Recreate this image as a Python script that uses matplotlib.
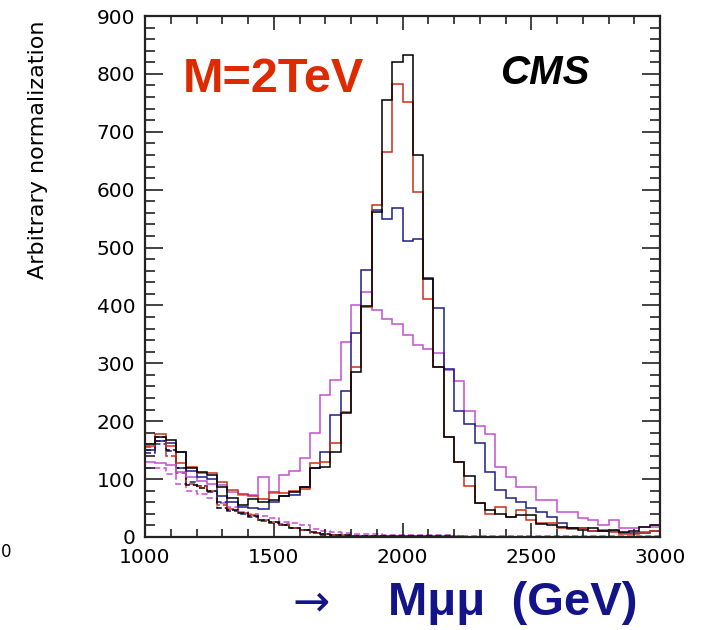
import numpy as np
import matplotlib.pyplot as plt
from matplotlib.ticker import MultipleLocator

# dimuon mass histograms, 40 GeV bins from 1000 to 3000 GeV
m_lo, m_hi, n_bins = 1000, 3000, 50

sig_black = [160, 172, 168, 147, 120, 113, 107, 86, 67, 56, 65, 60, 64, 70, 78, 87,
             119, 121, 147, 214, 285, 399, 562, 755, 821, 832, 660, 445, 294, 173,
             129, 105, 59, 47, 40, 35, 38, 38, 22, 20, 18, 15, 12, 15, 10, 12, 8, 10, 18, 20]
sig_red = [158, 178, 158, 127, 121, 111, 110, 95, 81, 74, 70, 66, 77, 76, 80, 83,
           127, 130, 163, 216, 293, 398, 573, 665, 782, 752, 596, 411, 294, 173,
           129, 88, 59, 40, 52, 35, 47, 30, 24, 24, 16, 14, 15, 10, 12, 8, 6, 6, 8, 10]
sig_blue = [150, 166, 162, 147, 114, 104, 101, 70, 61, 52, 50, 48, 60, 70, 72, 87,
            119, 147, 211, 253, 352, 461, 565, 550, 568, 511, 514, 447, 395, 290,
            217, 195, 163, 113, 81, 68, 60, 50, 44, 35, 24, 16, 16, 10, 10, 10, 7, 7, 7, 10]
sig_magenta = [129, 128, 125, 112, 104, 96, 92, 90, 77, 72, 72, 104, 76, 107, 114, 137,
               179, 245, 272, 337, 401, 423, 392, 377, 368, 349, 331, 325, 318, 288,
               269, 218, 191, 178, 121, 104, 87, 87, 64, 64, 44, 44, 32, 30, 21, 29, 15, 15, 18, 18]

# Drell-Yan background (dashed)
bkg_black = [150, 165, 150, 120, 90, 85, 80, 50, 46, 42, 36, 30, 26, 20, 16, 12, 8, 5, 4, 3,
             2, 2, 1, 1, 1, 1, 1, 1, 1, 1, 0, 0, 0, 0, 0, 0, 0, 0, 0, 0, 0, 0, 0, 0, 0, 0, 0, 0, 0, 0]
bkg_red = [155, 172, 140, 110, 92, 88, 80, 55, 48, 42, 38, 30, 26, 22, 16, 12, 7, 5, 4, 3,
           2, 2, 1, 1, 1, 1, 1, 1, 1, 1, 1, 0, 0, 0, 0, 0, 0, 0, 0, 0, 0, 0, 0, 0, 0, 0, 0, 0, 0, 0]
bkg_blue = [145, 160, 148, 120, 95, 88, 78, 60, 45, 40, 35, 28, 25, 20, 16, 12, 7, 4, 3, 2,
            1, 1, 1, 1, 1, 1, 1, 1, 0, 0, 0, 0, 0, 0, 0, 0, 0, 0, 0, 0, 0, 0, 0, 0, 0, 0, 0, 0, 0, 0]
bkg_magenta = [120, 120, 108, 92, 80, 75, 68, 58, 52, 44, 40, 36, 32, 26, 24, 20, 14, 10, 8, 7,
               6, 5, 5, 4, 4, 3, 3, 3, 3, 3, 2, 2, 2, 2, 2, 2, 2, 2, 2, 2, 1, 1, 1, 1, 1, 1, 1, 1, 1, 1]

colors = {'black': '#000000', 'red': '#cc3018', 'blue': '#1e1e86', 'magenta': '#c54fd2'}

edges = np.linspace(m_lo, m_hi, n_bins + 1)

fig = plt.figure(figsize=(7.11, 6.30), dpi=100)
ax = fig.add_axes([145 / 711, 93 / 630, 515 / 711, 521 / 630])

for vals, c in [(bkg_magenta, 'magenta'), (bkg_blue, 'blue'), (bkg_red, 'red'), (bkg_black, 'black')]:
    ax.stairs(vals, edges, baseline=None, color=colors[c], lw=1.1, ls=(0, (4, 2)))

for vals, c in [(sig_magenta, 'magenta'), (sig_blue, 'blue'), (sig_red, 'red'), (sig_black, 'black')]:
    ax.stairs(vals, edges, baseline=None, color=colors[c], lw=1.1)

ax.set_xlim(m_lo, m_hi)
ax.set_ylim(0, 900)
ax.xaxis.set_major_locator(MultipleLocator(500))
ax.xaxis.set_minor_locator(MultipleLocator(100))
ax.yaxis.set_major_locator(MultipleLocator(100))
ax.yaxis.set_minor_locator(MultipleLocator(20))

ax.tick_params(which='both', direction='in', top=True, right=True, color='#222222', width=1.2)
ax.tick_params(axis='x', which='major', length=10, pad=8)
ax.tick_params(axis='x', which='minor', length=6)
ax.tick_params(axis='y', which='major', length=13, pad=7)
ax.tick_params(axis='y', which='minor', length=7)
for lab in ax.get_xticklabels() + ax.get_yticklabels():
    lab.set_fontfamily('DejaVu Sans')
    lab.set_fontsize(14.5)
for sp in ax.spines.values():
    sp.set_linewidth(1.6)
    sp.set_color('#222222')

fig.text(183 / 711, 1 - 79 / 630, 'M=2TeV', color='#dd2a00', fontsize=35,
         fontweight='bold', family='Liberation Sans', va='center', ha='left')
fig.text(545 / 711, 1 - 73 / 630, 'CMS', color='black', fontsize=29,
         fontweight='bold', fontstyle='italic', family='Liberation Sans', va='center', ha='center')

fig.text(38 / 711, 1 - 150 / 630, 'Arbitrary normalization', rotation=90,
         fontsize=16, family='DejaVu Sans', va='center', ha='center')

# x axis title: arrow and mass label
fig.text(311 / 711, 1 - 603 / 630, '→', color='#14148a', fontsize=32,
         family='DejaVu Sans', va='center', ha='center')
fig.text(638 / 711, 1 - 603 / 630, 'Mμμ  (GeV)', color='#14148a', fontsize=34,
         fontweight='bold', family='Liberation Sans', va='center', ha='right')

# neighbouring panel's last tick label at the left edge
fig.text(1 / 711, 1 - 552 / 630, '0', fontsize=12, family='DejaVu Sans', va='center', ha='left')

fig.savefig('out.png', dpi=100)
